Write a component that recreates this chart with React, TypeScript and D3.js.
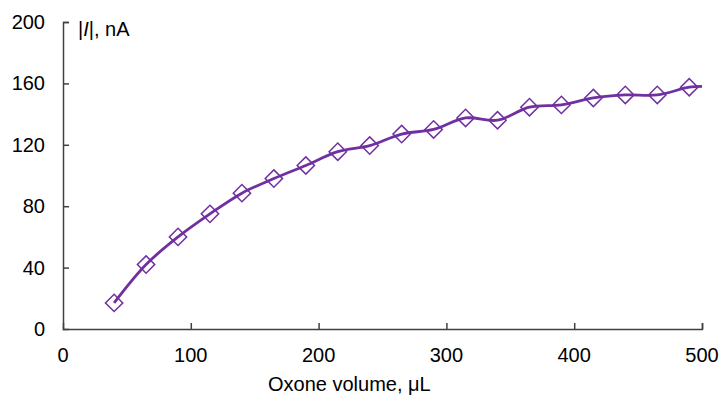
import { useEffect, useRef } from "react";
import * as d3 from "d3";

// Oxone volume (µL) and measured |I| (nA)
const volumes = [40, 65, 90, 115, 140, 165, 190, 215, 240, 265, 290, 315, 340, 365, 390, 415, 440, 465, 490];
const currents = [17, 42, 60, 75, 88.5, 98, 106.5, 115.5, 119.5, 127, 130, 137.5, 136, 144.5, 146, 150.5, 152.5, 152.5, 157.5];
// smoothed line runs on to the axis end
const lineEndVolume = 500;
const lineEndCurrent = 158;

const xTicks = [0, 100, 200, 300, 400, 500];
const yTicks = [0, 40, 80, 120, 160, 200];

export default function App() {
  const ref = useRef<SVGSVGElement>(null);

  useEffect(() => {
    const width = 721;
    const height = 399;
    const marginLeft = 63;
    const marginRight = 19;
    const marginTop = 22;
    const marginBottom = 70;
    const purple = "#7030a0";
    const axisColor = "#404040";
    const font = "Liberation Sans, Arial, sans-serif";

    const svg = d3.select(ref.current);
    svg.selectAll("*").remove();

    const x = d3.scaleLinear([0, 500], [marginLeft, width - marginRight]);
    const y = d3.scaleLinear([0, 200], [height - marginBottom, marginTop]);

    // x axis, ticks pointing inward
    svg.append("g")
      .attr("transform", `translate(0,${y(0)})`)
      .call(d3.axisTop(x).tickValues(xTicks.slice(1)).tickSizeOuter(0).tickSize(6).tickFormat(() => ""))
      .call(g => g.selectAll("path, line").attr("stroke", axisColor).attr("stroke-width", 1.5));

    svg.append("g")
      .selectAll("text")
      .data(xTicks)
      .join("text")
      .attr("x", d => x(d))
      .attr("y", y(0) + 33)
      .attr("text-anchor", "middle")
      .attr("font-family", font)
      .attr("font-size", 20)
      .attr("fill", "#000")
      .text(d => d);

    // y axis, ticks pointing inward
    svg.append("g")
      .attr("transform", `translate(${x(0)},0)`)
      .call(d3.axisRight(y).tickValues(yTicks.slice(1)).tickSizeOuter(0).tickSize(6).tickFormat(() => ""))
      .call(g => g.selectAll("path, line").attr("stroke", axisColor).attr("stroke-width", 1.5));

    svg.append("g")
      .selectAll("text")
      .data(yTicks)
      .join("text")
      .attr("x", x(0) - 18)
      .attr("y", d => y(d))
      .attr("dy", "0.35em")
      .attr("text-anchor", "end")
      .attr("font-family", font)
      .attr("font-size", 20)
      .attr("fill", "#000")
      .text(d => d);

    // axis titles
    svg.append("text")
      .attr("x", 268)
      .attr("y", 391)
      .attr("font-family", font)
      .attr("font-size", 20)
      .attr("fill", "#000")
      .text("Oxone volume, μL");

    const yTitle = svg.append("text")
      .attr("x", 78)
      .attr("y", 36)
      .attr("font-family", font)
      .attr("font-size", 20)
      .attr("fill", "#000");
    yTitle.append("tspan").text("|");
    yTitle.append("tspan").attr("font-style", "italic").text("I");
    yTitle.append("tspan").text("|, nA");

    // smoothed line
    const linePts: [number, number][] = volumes.map((v, i) => [v, currents[i]]);
    linePts.push([lineEndVolume, lineEndCurrent]);

    const line = d3.line<[number, number]>()
      .x(d => x(d[0]))
      .y(d => y(d[1]))
      .curve(d3.curveCatmullRom.alpha(0.5));

    svg.append("path")
      .attr("fill", "none")
      .attr("stroke", purple)
      .attr("stroke-width", 2.8)
      .attr("d", line(linePts));

    // diamond markers
    const diamond = d3.symbol(d3.symbolSquare, 150);
    svg.append("g")
      .selectAll("path")
      .data(volumes)
      .join("path")
      .attr("transform", (d, i) => `translate(${x(d)},${y(currents[i])}) rotate(45)`)
      .attr("d", diamond())
      .attr("fill", "none")
      .attr("stroke", purple)
      .attr("stroke-width", 1.5);
  }, []);

  return (
    <svg
      ref={ref}
      width={721}
      height={399}
      style={{ position: "absolute", left: 0, top: 0, background: "#fff" }}
    />
  );
}
